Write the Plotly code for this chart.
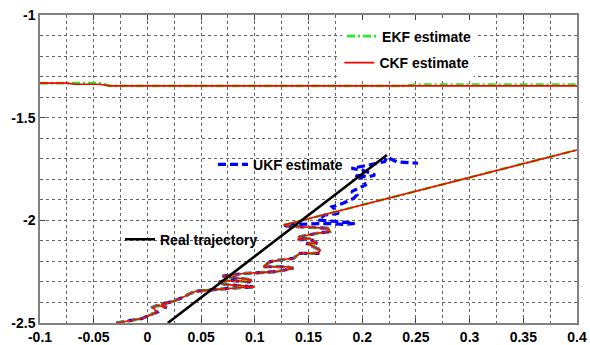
import plotly.graph_objects as go

# ---------------- data ----------------
# shared wiggly segment (EKF, CKF and UKF coincide here)
common_x = [-0.029, -0.016, -0.005, 0.002, 0.009, 0.005, 0.009, 0.018, 0.013, 0.023,
            0.031, 0.040, 0.045, 0.056, 0.070, 0.085, 0.100, 0.088, 0.072, 0.066,
            0.078, 0.095, 0.097, 0.082, 0.070, 0.077, 0.092, 0.120, 0.136, 0.130,
            0.108, 0.114, 0.123, 0.136, 0.142, 0.159, 0.161, 0.148, 0.158, 0.151,
            0.140, 0.142, 0.158, 0.170, 0.168, 0.130, 0.127]
common_y = [-2.500, -2.488, -2.478, -2.462, -2.447, -2.424, -2.414, -2.425, -2.408, -2.396,
            -2.380, -2.356, -2.345, -2.340, -2.333, -2.328, -2.325, -2.318, -2.312, -2.300,
            -2.293, -2.300, -2.290, -2.280, -2.272, -2.266, -2.258, -2.250, -2.234, -2.226,
            -2.226, -2.202, -2.193, -2.185, -2.161, -2.161, -2.145, -2.112, -2.112, -2.088,
            -2.096, -2.080, -2.063, -2.055, -2.039, -2.028, -2.023]

# UKF continuation after the shared segment
ukf_tail_x = [0.127, 0.150, 0.168, 0.184, 0.193, 0.175, 0.159, 0.165, 0.178, 0.172,
              0.182, 0.192, 0.195, 0.190, 0.203, 0.200, 0.193, 0.206, 0.212, 0.200,
              0.190, 0.203, 0.221, 0.223, 0.232, 0.252]
ukf_tail_y = [-2.023, -2.018, -2.015, -2.020, -2.015, -2.005, -1.999, -1.974, -1.966, -1.934,
              -1.917, -1.893, -1.877, -1.860, -1.828, -1.796, -1.779, -1.788, -1.779, -1.755,
              -1.747, -1.734, -1.714, -1.692, -1.715, -1.722]

# EKF / CKF straight continuation
ekf_ckf_tail_x = [0.127, 0.400]
ekf_ckf_tail_y = [-2.023, -1.657]

# EKF / CKF upper near-horizontal segment
ekf_upper_x = [-0.100, -0.045, -0.035, 0.240, 0.250, 0.400]
ekf_upper_y = [-1.332, -1.332, -1.345, -1.345, -1.339, -1.339]
ckf_upper_x = [-0.100, -0.075, -0.068, -0.045, -0.035, 0.400]
ckf_upper_y = [-1.332, -1.332, -1.337, -1.337, -1.345, -1.345]

# real trajectory
real_x = [0.019, 0.223]
real_y = [-2.500, -1.682]

x_tick_vals = [-0.1, -0.05, 0, 0.05, 0.1, 0.15, 0.2, 0.25, 0.3, 0.35, 0.4]
x_tick_text = ["-0.1", "-0.05", "0", "0.05", "0.1", "0.15", "0.2", "0.25", "0.3", "0.35", "0.4"]
y_tick_vals = [-2.5, -2, -1.5, -1]
y_tick_text = ["-2.5", "-2", "-1.5", "-1"]

# ---------------- traces ----------------
FONT = "Arial, Liberation Sans, sans-serif"

ukf_x = common_x + ukf_tail_x[1:]
ukf_y = common_y + ukf_tail_y[1:]
ekf_x = ekf_upper_x + [None] + common_x + ekf_ckf_tail_x[1:]
ekf_y = ekf_upper_y + [None] + common_y + ekf_ckf_tail_y[1:]
ckf_x = ckf_upper_x + [None] + common_x + ekf_ckf_tail_x[1:]
ckf_y = ckf_upper_y + [None] + common_y + ekf_ckf_tail_y[1:]

fig = go.Figure()
fig.add_trace(go.Scatter(x=ukf_x, y=ukf_y, mode="lines", name="<b>UKF estimate</b>",
                         line=dict(color="#0000ff", width=3.2, dash="8px,4px"),
                         legend="legend3"))
fig.add_trace(go.Scatter(x=ekf_x, y=ekf_y, mode="lines", name="<b>EKF estimate</b>",
                         line=dict(color="#22ee22", width=2.6, dash="8px,3px,2px,3px"),
                         legend="legend"))
fig.add_trace(go.Scatter(x=ckf_x, y=ckf_y, mode="lines", name="<b>CKF estimate</b>",
                         line=dict(color="#ff0000", width=1.6),
                         legend="legend2"))
fig.add_trace(go.Scatter(x=real_x, y=real_y, mode="lines", name="<b>Real trajectory</b>",
                         line=dict(color="#000000", width=2.6),
                         legend="legend4"))

leg_common = dict(borderwidth=0,
                  font=dict(family=FONT, size=14, color="#000"),
                  xanchor="left", yanchor="middle", itemclick=False)

grid_style = dict(showgrid=True, gridcolor="#666666", gridwidth=1, griddash="dot")

fig.update_layout(
    width=590, height=345,
    margin=dict(l=40, r=13, t=15, b=22, autoexpand=False),
    paper_bgcolor="white", plot_bgcolor="white",
    showlegend=True,
    legend=dict(x=0.5625, y=0.93, bgcolor="white", **leg_common),
    legend2=dict(x=0.5575, y=0.844, bgcolor="white", **leg_common),
    legend3=dict(x=0.3222, y=0.5138, bgcolor="rgba(0,0,0,0)", **leg_common),
    legend4=dict(x=0.149, y=0.2704, bgcolor="rgba(0,0,0,0)", **leg_common),
    xaxis=dict(range=[-0.1, 0.4], tickmode="array", tickvals=x_tick_vals,
               ticktext=["<b>%s</b>" % t for t in x_tick_text],
               ticks="inside", ticklen=5, tickcolor="#444", tickwidth=1,
               showline=True, linecolor="#808080", linewidth=1.5, mirror="allticks",
               zeroline=False, automargin=False,
               tickfont=dict(family=FONT, size=14, color="#000"),
               minor=dict(tickmode="linear", tick0=-0.1, dtick=0.025, ticks="", **grid_style),
               **grid_style),
    yaxis=dict(range=[-2.5, -1], tickmode="array", tickvals=y_tick_vals,
               ticktext=["<b>%s</b>" % t for t in y_tick_text],
               ticks="inside", ticklen=5, tickcolor="#444", tickwidth=1,
               showline=True, linecolor="#808080", linewidth=1.5, mirror="allticks",
               zeroline=False, automargin=False,
               tickfont=dict(family=FONT, size=14, color="#000"),
               minor=dict(tickmode="linear", tick0=-2.5, dtick=0.1, ticks="", **grid_style),
               **grid_style),
)

fig.write_html("out.html")
